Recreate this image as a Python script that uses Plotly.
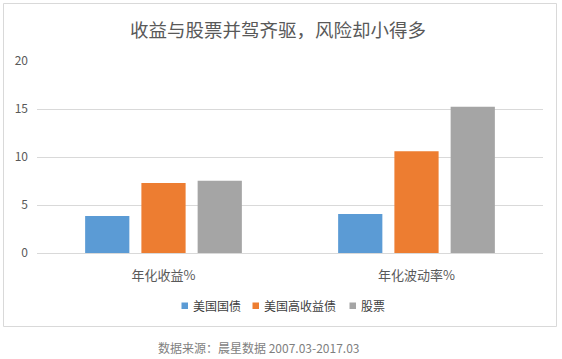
import plotly.graph_objects as go

categories = ["年化收益%", "年化波动率%"]
series_names = ["美国国债", "美国高收益债", "股票"]
treasury = [3.85, 4.06]
high_yield = [7.3, 10.6]
stocks = [7.53, 15.24]
y_ticks = [0, 5, 10, 15, 20]

colors = ["#5B9BD5", "#ED7D31", "#A5A5A5"]
font_family = "Noto Sans CJK SC, Microsoft YaHei, sans-serif"

fig = go.Figure()
for name, vals, c in zip(series_names, [treasury, high_yield, stocks], colors):
    fig.add_trace(go.Bar(x=categories, y=vals, name=name, showlegend=False,
                         marker=dict(color=c, line=dict(width=0))))

L, R, T, B = 37, 19, 61, 106
W, H = 562, 359
pw, ph = W - L - R, H - T - B

def px_x(p):
    return (p - L) / pw

def px_y(p):
    return (H - B - p) / ph

fig.update_layout(
    width=W, height=H,
    margin=dict(l=L, r=R, t=T, b=B, autoexpand=False),
    paper_bgcolor="white", plot_bgcolor="white",
    barmode="group", bargap=0.333, bargroupgap=0.214,
    font=dict(family=font_family, color="#595959", size=12),
    title=dict(text="收益与股票并驾齐驱，风险却小得多", x=278 / W, xanchor="center",
               y=1 - 30.5 / H, yanchor="middle",
               font=dict(size=18.5, color="#595959", family=font_family)),
    xaxis=dict(showgrid=False, showline=False, ticks="", ticklabelstandoff=13,
               tickfont=dict(size=13, color="#595959")),
    yaxis=dict(range=[0, 20], tickvals=y_ticks, showgrid=True, gridcolor="#D9D9D9", gridwidth=1,
               zeroline=True, zerolinecolor="#D9D9D9", zerolinewidth=1, showline=False,
               tickfont=dict(size=12, color="#595959"), ticklabelstandoff=8),
    showlegend=False,
)

# outer chart border
fig.add_shape(type="rect", xref="paper", yref="paper",
              x0=px_x(3.5), x1=px_x(556.5), y0=px_y(326.5), y1=px_y(3.5),
              line=dict(color="#D9D9D9", width=1), fillcolor="rgba(0,0,0,0)", layer="below")

# custom legend (small squares + labels)
legend_sq_x = [181.5, 252.5, 349.5]
legend_y = 305.5
for name, c, sx in zip(series_names, colors, legend_sq_x):
    fig.add_shape(type="rect", xref="paper", yref="paper",
                  x0=px_x(sx), x1=px_x(sx + 6.5), y0=px_y(legend_y + 3.5), y1=px_y(legend_y - 3),
                  line=dict(width=0), fillcolor=c)
    fig.add_annotation(text=name, xref="paper", yref="paper",
                       x=px_x(sx + 9), y=px_y(legend_y), xanchor="left", yanchor="middle",
                       showarrow=False,
                       font=dict(size=12, color="#404040", family=font_family))

fig.add_annotation(text="数据来源：晨星数据 2007.03-2017.03", xref="paper", yref="paper",
                   x=px_x(156), y=px_y(347), xanchor="left", yanchor="middle", showarrow=False,
                   font=dict(size=12, color="#7F7F7F", family=font_family))

fig.write_html("out.html", config={"displayModeBar": False},
               post_script="document.body.style.margin='0';document.body.style.overflow='hidden';")
